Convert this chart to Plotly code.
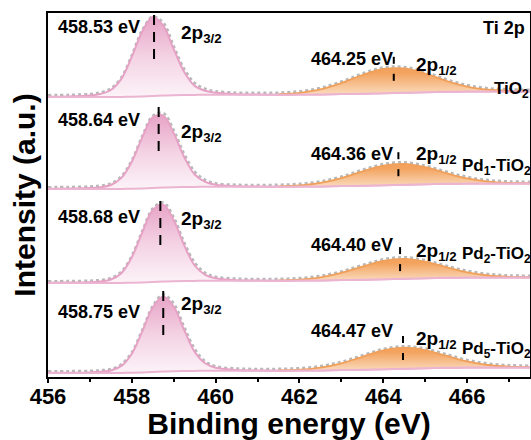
import plotly.graph_objects as go

# ---------------- data ----------------
energy = [456.0, 456.5, 457.0, 457.25, 457.5, 457.75, 458.0, 458.25, 458.5, 458.75,
          459.0, 459.25, 459.5, 459.75, 460.0, 460.5, 461.0, 461.5, 462.0, 462.5,
          463.0, 463.5, 464.0, 464.5, 465.0, 465.5, 466.0, 466.5, 467.0, 467.5]

background = [0, 0, 0, 0, 0, 0.1, 0.3, 0.6, 1.0, 1.4, 1.8, 2.0, 2.1, 2.2, 2.2,
              2.2, 2.2, 2.3, 2.4, 2.6, 2.9, 3.3, 3.8, 4.3, 4.8, 5.2, 5.4, 5.5, 5.5, 5.5]

samples = ["TiO<sub>2</sub>", "Pd<sub>1</sub>-TiO<sub>2</sub>",
           "Pd<sub>2</sub>-TiO<sub>2</sub>", "Pd<sub>5</sub>-TiO<sub>2</sub>"]
p32_pos = [458.53, 458.64, 458.68, 458.75]
p12_pos = [464.25, 464.36, 464.40, 464.47]

p32_TiO2 = [0.3, 0.6, 1.5, 3, 7, 18, 40, 65, 79, 70, 46, 23, 9, 4, 2,
            0.6, 0.2, 0, 0, 0, 0, 0, 0, 0, 0, 0, 0, 0, 0, 0]
p32_Pd1 = [0.3, 0.5, 1, 1.8, 4, 11, 27, 51, 70.6, 72, 54, 30, 12.4, 5, 2,
           0.5, 0.2, 0, 0, 0, 0, 0, 0, 0, 0, 0, 0, 0, 0, 0]
p32_Pd2 = [0.2, 0.4, 0.8, 1.5, 3.5, 9.7, 25.5, 50, 72, 77, 61, 35.6, 15.4, 6, 2.5,
           0.6, 0.2, 0, 0, 0, 0, 0, 0, 0, 0, 0, 0, 0, 0, 0]
p32_Pd5 = [0.2, 0.3, 0.6, 1.2, 2.5, 7, 19, 41, 64.5, 75, 64.5, 41, 19, 7.5, 3,
           0.8, 0.2, 0, 0, 0, 0, 0, 0, 0, 0, 0, 0, 0, 0, 0]

p12_TiO2 = [0, 0, 0, 0, 0, 0, 0, 0, 0, 0, 0, 0, 0, 0, 0,
            0, 0.2, 0.5, 1.8, 5, 11, 18.7, 24.2, 24.2, 18.7, 11, 5, 1.8, 0.6, 0.2]
p12_Pd1 = [0, 0, 0, 0, 0, 0, 0, 0, 0, 0, 0, 0, 0, 0, 0,
           0, 0.1, 0.4, 1.2, 3.5, 8, 14.3, 19.6, 20.8, 17, 10.7, 5.2, 1.9, 0.6, 0.15]
p12_Pd2 = [0, 0, 0, 0, 0, 0, 0, 0, 0, 0, 0, 0, 0, 0, 0,
           0, 0.1, 0.3, 1.0, 3.1, 7.2, 13.1, 18.4, 19.9, 16.6, 10.6, 5.3, 2, 0.6, 0.15]
p12_Pd5 = [0, 0, 0, 0, 0, 0, 0, 0, 0, 0, 0, 0, 0, 0, 0,
           0, 0.1, 0.3, 0.9, 2.8, 6.8, 12.9, 18.7, 21, 18.1, 12.1, 6.2, 2.5, 0.8, 0.2]

raw_TiO2 = [1.8, 2.1, 3.0, 4.5, 8.5, 19.6, 41.8, 67.1, 80.5, 74.4, 50.8, 28, 14.1, 8.2, 5.7,
            4.3, 4.1, 4.3, 5.7, 9.1, 15.4, 23.5, 29.5, 30.0, 25, 17.7, 11.9, 8.8, 7.6, 7.2]
raw_Pd1 = [1.8, 2.0, 2.5, 3.3, 5.5, 12.6, 28.8, 53.1, 73.1, 75.9, 58.8, 35, 17.5, 9.2, 5.7,
           4.2, 4.0, 4.2, 5.1, 7.6, 12.4, 19.1, 24.9, 26.6, 23.3, 17.4, 12.1, 8.9, 7.6, 7.2]
raw_Pd2 = [1.7, 1.9, 2.3, 3.0, 5.0, 11.3, 27.3, 52.1, 74.5, 80.4, 65.8, 40.6, 20.5, 10.2, 6.2,
           4.3, 4.0, 4.1, 4.9, 7.2, 11.6, 17.9, 23.7, 25.7, 22.9, 17.3, 12.2, 9.0, 7.6, 7.2]
raw_Pd5 = [1.7, 1.8, 2.1, 2.7, 4.0, 8.6, 20.8, 43.1, 67, 78.4, 69.3, 46, 24.1, 11.7, 6.7,
           4.5, 4.0, 4.1, 4.8, 6.9, 11.2, 17.7, 24, 26.8, 24.4, 18.8, 13.1, 9.5, 7.8, 7.2]

p32_sets = [p32_TiO2, p32_Pd1, p32_Pd2, p32_Pd5]
p12_sets = [p12_TiO2, p12_Pd1, p12_Pd2, p12_Pd5]
raw_sets = [raw_TiO2, raw_Pd1, raw_Pd2, raw_Pd5]

# ---------------- styling / layout ----------------
stack = [280, 188, 94, 4]          # vertical stacking of the spectra
FONT = "Liberation Sans, Arial, sans-serif"
PINK_LINE = "#E6A2C5"
ORANGE_LINE = "#F0A05A"

fig = go.Figure()

for k in range(4):
    off = stack[k]
    base = [off + b for b in background]
    p32 = [off + b + v for b, v in zip(background, p32_sets[k])]
    p12 = [off + b + v for b, v in zip(background, p12_sets[k])]
    raw = [off + v for v in raw_sets[k]]

    # raw data (dotted)
    fig.add_trace(go.Scatter(x=energy, y=raw, mode="lines", line_shape="spline",
                             line=dict(color="#B8B8B8", width=2.6, dash="dot"),
                             hoverinfo="skip", showlegend=False))
    # 2p3/2 component
    fig.add_trace(go.Scatter(x=energy, y=base, mode="lines", line_shape="spline",
                             line=dict(width=0), hoverinfo="skip", showlegend=False))
    fig.add_trace(go.Scatter(x=energy, y=p32, mode="lines", line_shape="spline",
                             line=dict(color=PINK_LINE, width=2),
                             fill="tonexty",
                             fillgradient=dict(type="vertical",
                                               colorscale=[[0, "#FCF3F8"], [0.5, "#F4D3E4"], [1, "#E8A6C8"]],
                                               start=off, stop=off + max(p32_sets[k])),
                             hoverinfo="skip", showlegend=False))
    # 2p1/2 component
    s = 17
    fig.add_trace(go.Scatter(x=energy[s:], y=base[s:], mode="lines", line_shape="spline",
                             line=dict(width=0), hoverinfo="skip", showlegend=False))
    fig.add_trace(go.Scatter(x=energy[s:], y=p12[s:], mode="lines", line_shape="spline",
                             line=dict(color=ORANGE_LINE, width=1.8),
                             fill="tonexty",
                             fillgradient=dict(type="vertical",
                                               colorscale=[[0, "#FBE1C8"], [1, "#F3A35E"]],
                                               start=off, stop=off + max(p12_sets[k])),
                             hoverinfo="skip", showlegend=False))
    # background line
    fig.add_trace(go.Scatter(x=energy, y=base, mode="lines", line_shape="spline",
                             line=dict(color="#EBB4D1", width=2),
                             hoverinfo="skip", showlegend=False))

    # dashed marker through the 2p3/2 peak
    fig.add_shape(type="line", xref="x", yref="y",
                  x0=p32_pos[k], x1=p32_pos[k],
                  y0=off + 38, y1=min(off + 88, 364),
                  line=dict(color="black", width=2, dash="10px,7px"))
    # short ticks at the 2p1/2 peak
    top12 = off + max(p12_sets[k]) + 4
    fig.add_shape(type="line", xref="x", yref="y", x0=p12_pos[k], x1=p12_pos[k],
                  y0=top12 + 5, y1=top12 + 12, line=dict(color="black", width=2))
    fig.add_shape(type="line", xref="x", yref="y", x0=p12_pos[k], x1=p12_pos[k],
                  y0=top12 - 12, y1=top12 - 5, line=dict(color="black", width=2))

# text labels
val_y = [350, 257, 160, 65]
p32_lab_y = [343, 244, 157, 72]
p12_val_y = [318, 223, 132, 46]
p12_lab_y = [311, 222, 125, 37]
samp_x = [466.60, 465.83, 465.83, 465.83]
samp_y = [287, 210, 122, 27]

ann = []
for k in range(4):
    ann.append(dict(x=457.205, y=val_y[k], text=f"{p32_pos[k]:.2f} eV", xanchor="center",
                    yanchor="middle", font=dict(size=18)))
    ann.append(dict(x=459.12, y=p32_lab_y[k], text="2p<sub>3/2</sub>", xanchor="left",
                    yanchor="middle", font=dict(size=19)))
    ann.append(dict(x=463.243, y=p12_val_y[k], text=f"{p12_pos[k]:.2f} eV", xanchor="center",
                    yanchor="middle", font=dict(size=18)))
    ann.append(dict(x=464.74, y=p12_lab_y[k], text="2p<sub>1/2</sub>", xanchor="left",
                    yanchor="middle", font=dict(size=19)))
    ann.append(dict(x=samp_x[k], y=samp_y[k], text=samples[k], xanchor="left",
                    yanchor="middle", font=dict(size=17)))
ann.append(dict(x=467.42, y=349, text="Ti 2p", xanchor="right", yanchor="middle",
                font=dict(size=18)))
for a in ann:
    a.update(xref="x", yref="y", showarrow=False)
    a["font"].update(family=FONT, color="black", weight="bold")

fig.update_layout(
    width=531, height=440,
    margin=dict(l=48, r=1, t=13, b=63),
    paper_bgcolor="white", plot_bgcolor="white",
    font=dict(family=FONT, color="black"),
    annotations=ann,
    xaxis=dict(range=[456, 467.5], tick0=456, dtick=2, ticks="outside", ticklen=4,
               tickwidth=2, tickcolor="black",
               minor=dict(dtick=1, ticks="outside", ticklen=2.5, tickwidth=1.5, tickcolor="black"),
               showline=True, linewidth=2, linecolor="black", mirror=True,
               showgrid=False, zeroline=False,
               tickfont=dict(size=22, family=FONT, weight="bold"),
               ticklabelstandoff=-5,
               title=dict(text="Binding energy (eV)", standoff=2,
                          font=dict(size=30, family=FONT, weight="bold")),
               automargin=False),
    yaxis=dict(range=[0, 364], showticklabels=False, ticks="",
               showline=True, linewidth=2, linecolor="black", mirror=True,
               showgrid=False, zeroline=False,
               title=dict(text="Intensity (a.u.)", standoff=2,
                          font=dict(size=30, family=FONT, weight="bold")),
               automargin=False),
)

fig.write_html("out.html", config={"displayModeBar": False},
               post_script="document.body.style.margin='0';document.body.style.padding='0';")
